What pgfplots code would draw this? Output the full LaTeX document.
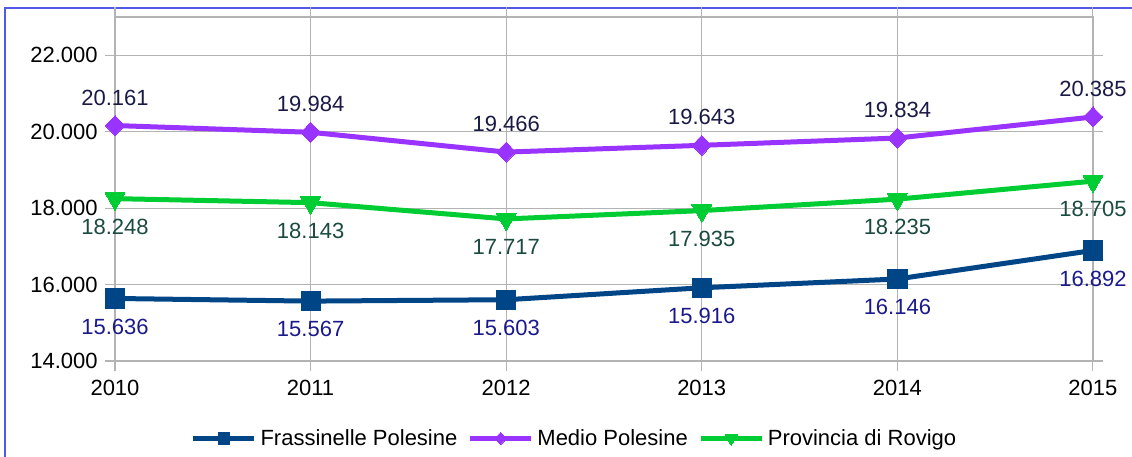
\documentclass[border=0pt]{standalone}
\usepackage{pgfplots}
\pgfplotsset{compat=1.18}
\usepackage{fontspec}
\setmainfont{Liberation Sans}

\definecolor{frass}{RGB}{0,69,134}
\definecolor{medio}{RGB}{153,51,255}
\definecolor{prov}{RGB}{0,204,51}
\definecolor{lfrass}{RGB}{26,26,140}
\definecolor{lmedio}{RGB}{26,26,70}
\definecolor{lprov}{RGB}{26,74,64}
\definecolor{frame}{RGB}{80,90,230}
\definecolor{gridc}{RGB}{179,179,179}

\begin{document}
\begin{tikzpicture}
  \useasboundingbox (0pt,0pt) rectangle (849pt,342.75pt);
  % outer chart frame, partly cut off
  \draw[frame, line width=1.2pt] (3.75pt,-15pt) -- (3.75pt,336.75pt) -- (862pt,336.75pt);
  \begin{axis}[
      at={(86.25pt,72pt)}, anchor=south west,
      scale only axis,
      width=733.5pt, height=258pt,
      xmin=2010, xmax=2015,
      ymin=14000, ymax=23000,
      xtick={2010,...,2015},
      ytick={14000,16000,...,22000},
      scaled y ticks=false,
      grid=major,
      major grid style={gridc, line width=0.8pt},
      axis line style={gridc, line width=0.8pt},
      tick style={gridc, line width=0.8pt},
      tick align=outside,
      major tick length=7.5pt,
      font=\fontsize{16.5}{19}\selectfont,
      /pgf/number format/assume math mode=true,
      yticklabel style={/pgf/number format/1000 sep={.}, /pgf/number format/min exponent for 1000 sep=4, xshift=-2pt},
      xticklabel style={/pgf/number format/1000 sep={}, yshift=-3pt},
      nodes near coords={\pgfmathprintnumber[1000 sep={.},min exponent for 1000 sep=4]{\pgfplotspointmeta}},
      every node near coord/.append style={font=\fontsize{16.5}{19}\selectfont, anchor=center},
      clip=false,
      legend columns=-1,
      legend style={draw=none, fill=none, at={(0.469,-0.225)}, anchor=center,
        font=\fontsize{16.5}{19}\selectfont,
        nodes={inner xsep=0pt},
        /tikz/every odd column/.append style={column sep=3pt},
        /tikz/every even column/.append style={column sep=8pt}},
      legend image code/.code={\draw[mark repeat=2, mark phase=2, line width=3.5pt, every mark/.append style={scale=0.6}] plot coordinates {(0cm,0cm)(0.8cm,0cm)(1.6cm,0cm)};},
    ]
    % Frassinelle Polesine
    \addplot[frass, line width=3.75pt, mark=square*, mark size=7.2pt,
      mark options={line width=0pt},
      every node near coord/.append style={lfrass, yshift=-21pt}]
      coordinates {(2010,15636) (2011,15567) (2012,15603) (2013,15916) (2014,16146) (2015,16892)};
    \addlegendentry{Frassinelle Polesine}
    % Medio Polesine
    \addplot[medio, line width=3.75pt, mark=diamond*, mark size=7.5pt,
      mark options={line width=0pt, xscale=1.3},
      every node near coord/.append style={lmedio, yshift=21pt}]
      coordinates {(2010,20161) (2011,19984) (2012,19466) (2013,19643) (2014,19834) (2015,20385)};
    \addlegendentry{Medio Polesine}
    % Provincia di Rovigo
    \addplot[prov, line width=3.75pt, mark=triangle*, mark size=8.6pt,
      mark options={line width=0pt, rotate=180},
      every node near coord/.append style={lprov, yshift=-21pt}]
      coordinates {(2010,18248) (2011,18143) (2012,17717) (2013,17935) (2014,18235) (2015,18705)};
    \addlegendentry{Provincia di Rovigo}
  \end{axis}
\end{tikzpicture}
\end{document}
